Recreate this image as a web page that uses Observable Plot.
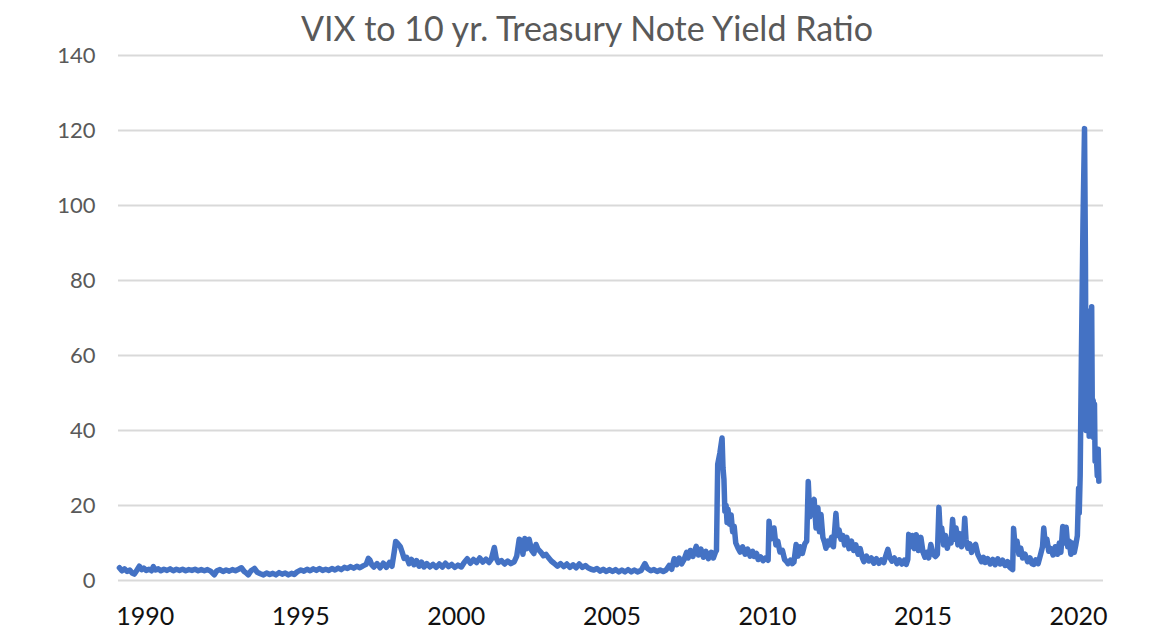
<!DOCTYPE html>
<html>
<head>
<meta charset="utf-8">
<script src="https://cdn.jsdelivr.net/npm/d3@7"></script>
<script src="https://cdn.jsdelivr.net/npm/@observablehq/plot@0.6"></script>
<style>
  html, body { margin: 0; padding: 0; background: #ffffff; }
  #wrap { position: relative; width: 1164px; height: 629px; }
  #title { position: absolute; left: 0; top: 11px; width: 1164px; height: 34px; line-height: 34px; text-align: center;
           padding-left: 10px; box-sizing: border-box; white-space: nowrap;
           font-family: Lato, "Open Sans", sans-serif; font-size: 34px; color: #595959; z-index: 2; }
  #chart svg { display: block; font-family: Lato, "Open Sans", sans-serif; }
</style>
</head>
<body>
<div id="wrap">
<div id="title">VIX to 10 yr. Treasury Note Yield Ratio</div>
<div id="chart"></div>
</div>
<script>
const chartTitle = "VIX to 10 yr. Treasury Note Yield Ratio";
const yTicks = [0, 20, 40, 60, 80, 100, 120, 140];
const xTicks = [1990, 1995, 2000, 2005, 2010, 2015, 2020];

// decimal year (as positioned on the original axis) and VIX / 10yr yield ratio
const year = [
1989.17,1989.25,1989.33,1989.42,1989.50,1989.58,1989.65,1989.72,1989.81,1989.88,1989.95,
1990.03,1990.12,1990.20,1990.26,1990.33,1990.42,1990.50,1990.60,1990.70,1990.80,1990.90,
1991.00,1991.10,1991.20,1991.30,1991.40,1991.50,1991.60,1991.70,1991.80,1991.90,
1992.00,1992.10,1992.22,1992.30,1992.40,1992.50,1992.60,1992.70,1992.80,1992.90,
1993.00,1993.09,1993.18,1993.25,1993.31,1993.40,1993.51,1993.60,1993.70,1993.80,1993.90,
1994.00,1994.10,1994.20,1994.30,1994.40,1994.50,1994.60,1994.70,1994.79,1994.88,
1995.00,1995.10,1995.20,1995.30,1995.40,1995.50,1995.60,1995.70,1995.80,1995.90,
1996.00,1996.10,1996.20,1996.30,1996.40,1996.50,1996.60,1996.70,1996.80,1996.90,
1997.00,1997.10,1997.17,1997.22,1997.28,1997.35,1997.45,1997.55,1997.65,1997.75,1997.85,1997.93,
1998.00,1998.05,1998.12,1998.20,1998.26,1998.32,1998.40,1998.48,1998.56,1998.64,1998.72,1998.80,1998.88,1998.96,
1999.05,1999.15,1999.25,1999.35,1999.45,1999.55,1999.65,1999.75,1999.85,1999.95,
2000.05,2000.16,2000.25,2000.35,2000.45,2000.55,2000.65,2000.75,2000.85,2000.95,
2001.05,2001.12,2001.22,2001.28,2001.35,2001.45,2001.55,2001.65,2001.75,2001.86,2001.94,
2002.02,2002.08,2002.14,2002.20,2002.27,2002.34,2002.42,2002.49,2002.56,2002.62,2002.72,2002.80,2002.88,2002.95,
2003.05,2003.14,2003.25,2003.35,2003.45,2003.55,2003.65,2003.75,2003.85,2003.95,
2004.05,2004.15,2004.23,2004.33,2004.42,2004.52,2004.62,2004.72,2004.82,2004.92,
2005.02,2005.12,2005.22,2005.32,2005.42,2005.52,2005.62,2005.72,2005.82,2005.94,
2006.06,2006.14,2006.25,2006.35,2006.45,2006.55,2006.65,2006.74,2006.84,2006.92,
2007.00,2007.08,2007.16,2007.24,2007.32,2007.40,2007.45,2007.52,2007.60,2007.71,2007.78,2007.86,2007.94,
2008.02,2008.10,2008.19,2008.26,2008.32,2008.36,2008.40,2008.47,2008.54,2008.57,2008.60,2008.63,2008.67,2008.70,2008.73,2008.78,2008.83,2008.88,2008.93,2008.98,
2009.05,2009.12,2009.20,2009.28,2009.36,2009.44,2009.52,2009.57,2009.65,2009.70,2009.78,2009.86,2009.94,
2010.02,2010.05,2010.10,2010.16,2010.21,2010.27,2010.33,2010.40,2010.48,2010.55,2010.62,2010.66,2010.74,2010.80,2010.85,2010.92,2010.98,
2011.05,2011.12,2011.20,2011.26,2011.31,2011.36,2011.42,2011.50,2011.56,2011.62,2011.67,2011.72,2011.78,2011.84,2011.88,2011.94,
2012.00,2012.06,2012.12,2012.20,2012.25,2012.30,2012.36,2012.42,2012.48,2012.55,2012.62,2012.70,2012.77,2012.84,2012.91,2012.98,
2013.05,2013.10,2013.18,2013.26,2013.34,2013.42,2013.50,2013.58,2013.66,2013.74,2013.80,2013.87,2013.93,
2014.00,2014.08,2014.16,2014.24,2014.32,2014.40,2014.46,2014.51,2014.54,2014.60,2014.66,2014.72,2014.78,2014.85,2014.93,
2015.00,2015.06,2015.12,2015.18,2015.25,2015.32,2015.40,2015.46,2015.51,2015.55,2015.60,2015.66,2015.72,2015.78,2015.84,2015.90,2015.95,
2016.00,2016.06,2016.12,2016.18,2016.24,2016.30,2016.34,2016.38,2016.44,2016.50,2016.56,2016.62,2016.69,2016.76,2016.82,2016.88,2016.94,
2017.00,2017.08,2017.16,2017.24,2017.32,2017.40,2017.48,2017.56,2017.64,2017.72,2017.78,2017.82,2017.88,2017.91,2017.96,
2018.02,2018.08,2018.14,2018.20,2018.28,2018.36,2018.44,2018.50,2018.56,2018.62,2018.70,2018.78,2018.84,2018.88,2018.93,2018.98,
2019.04,2019.11,2019.18,2019.25,2019.32,2019.38,2019.43,2019.49,2019.54,2019.60,2019.65,2019.70,2019.75,2019.80,2019.86,2019.91,2019.96,
2020.00,2020.02,2020.05,2020.09,2020.14,2020.19,2020.22,2020.24,2020.26,2020.28,2020.31,2020.34,2020.37,2020.40,2020.42,2020.44,2020.47,2020.49,2020.51,2020.53,2020.56,2020.60,2020.63,2020.65
];
const ratio = [
3.4,2.6,3.1,2.4,2.8,2.0,1.7,2.6,3.8,2.9,3.3,
2.7,3.0,2.6,3.7,2.8,3.1,2.6,3.0,2.7,3.1,2.6,
3.0,2.7,3.0,2.6,2.9,2.7,3.0,2.6,2.9,2.6,
2.9,2.5,1.5,2.6,2.9,2.4,2.8,2.5,2.9,2.6,
3.0,3.4,2.4,2.0,1.5,2.6,3.2,2.2,1.8,1.5,2.0,
1.6,1.9,1.5,2.1,1.7,2.0,1.5,1.9,1.6,2.3,
2.8,2.5,3.0,2.6,3.1,2.7,3.2,2.7,3.0,2.7,
3.2,2.8,3.3,2.9,3.5,3.2,3.7,3.3,3.8,3.4,
3.9,4.3,5.9,5.5,4.2,3.6,4.5,3.4,4.6,3.5,4.8,3.8,
7.5,10.4,9.8,9.0,7.5,5.9,6.2,4.5,5.6,4.2,5.3,3.8,4.9,3.6,
4.5,3.6,4.3,3.5,4.4,3.6,4.6,3.7,4.3,3.5,
4.1,3.6,4.8,5.8,4.6,5.6,4.8,6.0,4.9,5.7,
4.8,5.6,8.8,6.0,4.8,5.3,4.4,5.2,4.5,5.0,6.5,
11.0,10.6,7.0,11.2,8.5,11.0,8.0,7.2,9.6,8.4,7.5,6.6,7.0,6.2,
5.2,4.6,3.8,4.5,3.7,4.4,3.5,4.2,3.4,4.4,
3.5,4.0,3.4,3.0,2.8,3.2,2.5,3.0,2.4,2.9,
2.4,2.9,2.3,2.8,2.3,2.9,2.3,2.8,2.3,2.7,
4.5,3.2,2.6,2.9,2.4,2.8,2.4,2.8,4.0,3.0,
5.8,4.2,6.0,4.4,5.6,7.5,6.0,8.0,6.4,9.1,6.8,8.4,6.2,
7.8,5.8,7.5,6.0,7.4,8.0,31.0,34.0,38.0,30.0,27.0,18.5,20.0,15.5,19.0,15.0,17.5,13.0,14.4,10.0,
8.7,7.6,9.0,7.0,8.4,6.5,7.8,6.4,7.2,5.6,6.3,5.3,6.0,
5.4,15.8,11.0,12.5,14.0,9.5,10.5,7.6,8.0,5.6,5.0,4.5,5.4,4.5,4.9,9.6,6.5,
9.0,7.2,9.8,10.5,26.4,17.0,20.5,21.6,14.0,19.4,13.0,17.6,11.5,10.0,8.6,10.5,
9.5,11.5,9.0,17.9,12.0,13.5,11.0,12.0,9.5,11.5,8.5,10.5,8.0,9.5,7.0,8.5,
6.0,5.0,6.5,5.2,6.0,4.6,5.8,4.6,5.5,4.8,6.5,8.3,6.2,
5.2,6.0,4.5,5.5,4.4,5.4,4.3,5.6,12.3,9.0,12.0,8.5,12.2,8.0,11.5,
7.5,6.2,7.5,6.0,9.6,7.0,6.4,7.0,19.5,13.0,14.0,9.5,12.0,8.6,11.0,10.0,16.3,
11.0,14.0,9.5,12.5,9.0,10.5,16.6,11.0,8.6,9.8,7.5,9.0,9.6,7.0,6.0,5.0,6.2,
4.8,5.8,4.4,5.6,4.2,5.8,4.4,5.4,4.0,5.0,3.6,3.3,2.9,13.9,9.0,
10.5,7.0,8.6,6.0,7.0,5.0,6.0,4.5,4.3,5.5,4.5,7.0,9.0,14.0,9.5,11.0,
7.8,8.5,6.8,9.0,7.0,10.0,7.5,14.4,10.0,14.2,9.0,10.5,7.0,10.0,7.5,9.5,12.0,
24.6,18.0,28.0,60.0,95.0,120.5,85.0,40.0,72.0,42.0,66.0,38.5,60.0,40.0,73.0,45.0,48.0,38.0,47.0,31.8,35.0,28.0,35.0,26.5
];

const data = year.map((t, i) => ({year: t, ratio: ratio[i]}));

const chart = Plot.plot({
  width: 1164,
  height: 629,
  marginTop: 55,
  marginBottom: 49,
  marginLeft: 118,
  marginRight: 61,
  style: {background: "#ffffff", fontFamily: "Lato, 'Open Sans', sans-serif"},
  x: {type: "linear", domain: [1989.14, 2020.80]},
  y: {domain: [0, 140]},
  marks: [
    Plot.ruleY(yTicks, {stroke: "#d9d9d9", strokeWidth: 2}),
    Plot.axisY({ticks: yTicks, tickSize: 0, tickPadding: 23, fontSize: 22, color: "#595959", label: null}),
    Plot.axisX({ticks: xTicks, tickSize: 0, tickPadding: 27, fontSize: 25, color: "#111111", label: null, tickFormat: d => String(d)}),
    Plot.line(data, {x: "year", y: "ratio", stroke: "#4472C4", strokeWidth: 5.5, strokeLinejoin: "round", strokeLinecap: "round"})
  ]
});
document.getElementById("chart").appendChild(chart);
</script>
</body>
</html>
